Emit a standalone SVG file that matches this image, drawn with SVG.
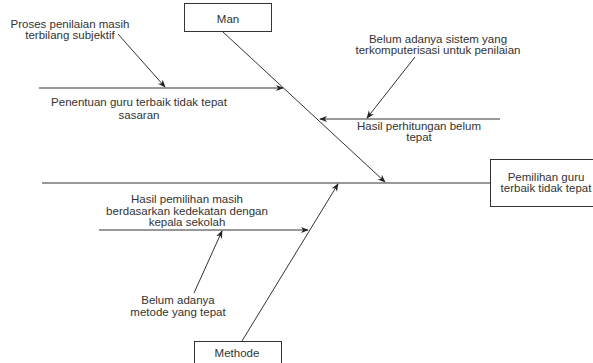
<svg xmlns="http://www.w3.org/2000/svg" width="593" height="363" viewBox="0 0 593 363">
<defs>
<style>
text{font-family:"Liberation Sans",Arial,sans-serif;font-size:11.5px;fill:#333;text-anchor:middle}
.box{fill:#fff;stroke:#333;stroke-width:1}
.ln{stroke:#333;stroke-width:1;fill:none}
.ar{marker-end:url(#ah)}
</style>
<marker id="ah" viewBox="0 0 10 10" refX="9" refY="5" markerWidth="8" markerHeight="8" orient="auto" markerUnits="userSpaceOnUse">
<path d="M0,1 L10,5 L0,9 L3,5 Z" fill="#222"/>
</marker>
</defs>
<rect width="593" height="363" fill="#fff"/>
<g id="connectors">
<line class="ln" x1="42" y1="183" x2="490" y2="183"/>
<line class="ln ar" x1="223" y1="32" x2="385" y2="182"/>
<line class="ln ar" x1="242" y1="341" x2="338" y2="184"/>
<line class="ln ar" x1="39" y1="88" x2="283" y2="88"/>
<line class="ln ar" x1="118" y1="34" x2="165" y2="87"/>
<line class="ln ar" x1="500" y1="119" x2="320" y2="119"/>
<line class="ln ar" x1="415" y1="57" x2="367" y2="118"/>
<line class="ln ar" x1="99" y1="230" x2="308" y2="230"/>
<line class="ln ar" x1="194" y1="293" x2="222" y2="231"/>
</g>
<g id="man">
<rect class="box" x="184.5" y="3.5" width="87" height="28"/>
<text x="228" y="23">Man</text>
</g>
<g id="methode">
<rect class="box" x="194.5" y="341.5" width="87" height="28"/>
<text x="237" y="357">Methode</text>
</g>
<g id="effect">
<rect class="box" x="490.5" y="159.5" width="106" height="47"/>
<text x="546" y="181">Pemilihan guru</text>
<text x="546" y="192">terbaik tidak tepat</text>
</g>
<g id="cause1">
<text x="139" y="106">Penentuan guru terbaik tidak tepat</text>
<text x="139" y="119">sasaran</text>
</g>
<g id="cause1a">
<text x="70" y="28">Proses penilaian masih</text>
<text x="70" y="39">terbilang subjektif</text>
</g>
<g id="cause2">
<text x="419" y="130">Hasil perhitungan belum</text>
<text x="419" y="141">tepat</text>
</g>
<g id="cause2a">
<text x="438" y="43">Belum adanya sistem yang</text>
<text x="438" y="54">terkomputerisasi untuk penilaian</text>
</g>
<g id="cause3">
<text x="187" y="203">Hasil pemilihan masih</text>
<text x="187" y="215">berdasarkan  kedekatan dengan</text>
<text x="187" y="226">kepala sekolah</text>
</g>
<g id="cause3a">
<text x="178" y="304">Belum adanya</text>
<text x="178" y="316">metode yang tepat</text>
</g>
</svg>
